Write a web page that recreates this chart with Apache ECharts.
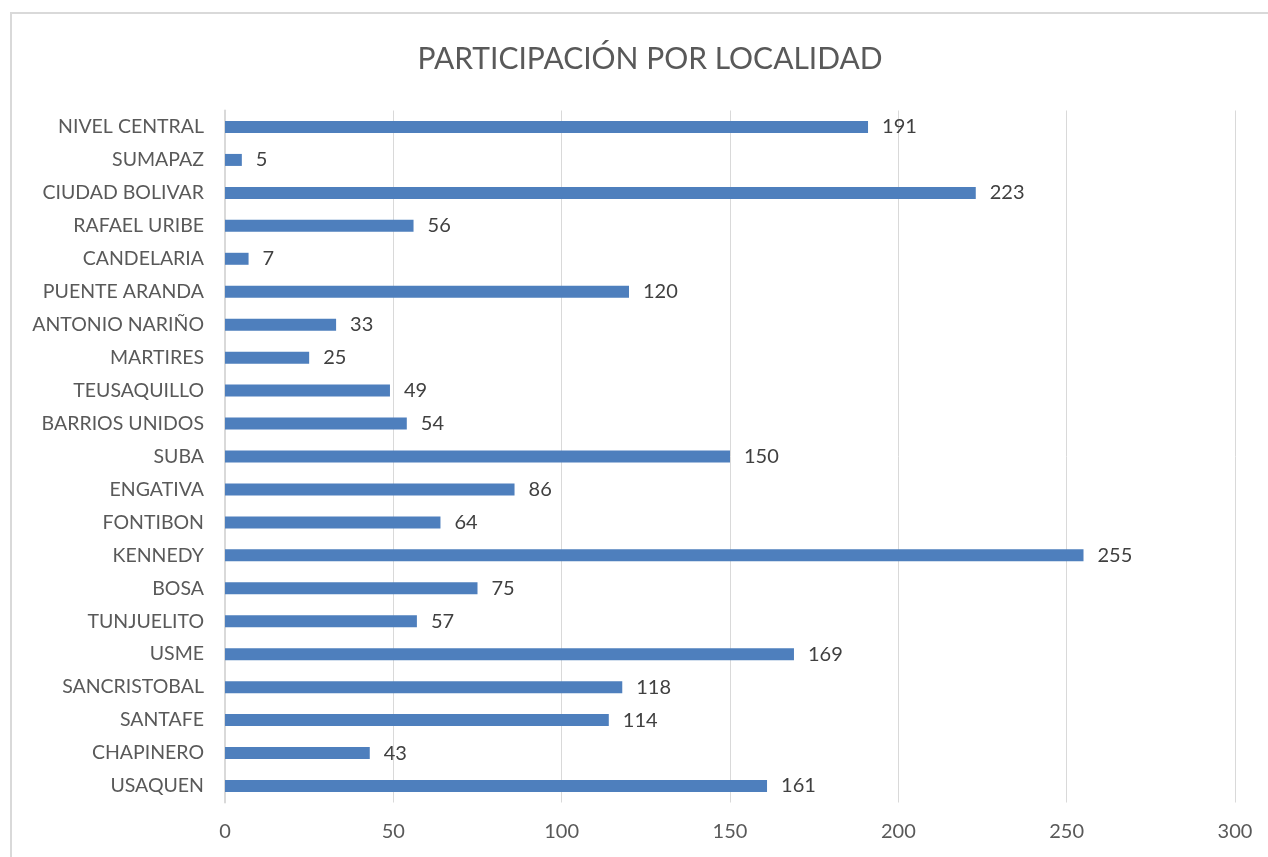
<!DOCTYPE html>
<html>
<head>
<meta charset="utf-8">
<script src="https://cdn.jsdelivr.net/npm/echarts@6/dist/echarts.min.js"></script>
<style>
html,body{margin:0;padding:0;background:#fff;}
#c{width:1268px;height:857px;}
</style>
</head>
<body>
<div id="c"></div>
<script>
const categories = ["USAQUEN","CHAPINERO","SANTAFE","SANCRISTOBAL","USME","TUNJUELITO","BOSA","KENNEDY","FONTIBON","ENGATIVA","SUBA","BARRIOS UNIDOS","TEUSAQUILLO","MARTIRES","ANTONIO NARIÑO","PUENTE ARANDA","CANDELARIA","RAFAEL URIBE","CIUDAD BOLIVAR","SUMAPAZ","NIVEL CENTRAL"];
const values = [161,43,114,118,169,57,75,255,64,86,150,54,49,25,33,120,7,56,223,5,191];
const titleText = "PARTICIPACIÓN POR LOCALIDAD";

const chart = echarts.init(document.getElementById('c'));
const font = "Lato, 'Open Sans', sans-serif";
chart.setOption({
  animation: false,
  backgroundColor: '#fff',
  title: {
    text: titleText,
    left: 645,
    textAlign: 'center',
    top: 39,
    textStyle: {fontFamily: font, fontSize: 30, fontWeight: 'normal', color: '#595959'}
  },
  graphic: [{
    type: 'rect',
    shape: {x: 11, y: 13, width: 1300, height: 900},
    style: {fill: 'none', stroke: '#d9d9d9', lineWidth: 2},
    silent: true
  }],
  grid: {left: 225, right: 33, top: 110.5, bottom: 54.5, containLabel: false},
  xAxis: {
    type: 'value', min: 0, max: 300, interval: 50,
    axisLine: {show: false}, axisTick: {show: false},
    splitLine: {lineStyle: {color: '#d9d9d9', width: 1}},
    axisLabel: {fontFamily: font, fontSize: 20, color: '#595959', margin: 19}
  },
  yAxis: {
    type: 'category', data: categories,
    axisLine: {show: true, lineStyle: {color: '#d9d9d9', width: 2}},
    axisTick: {show: false},
    axisLabel: {fontFamily: font, fontSize: 19.5, color: '#595959', margin: 21}
  },
  series: [{
    type: 'bar', data: values, barWidth: 12,
    itemStyle: {color: '#4e7fbd'},
    label: {show: true, position: 'right', distance: 14, fontFamily: font, fontSize: 20, color: '#404040'}
  }]
});
</script>
</body>
</html>
